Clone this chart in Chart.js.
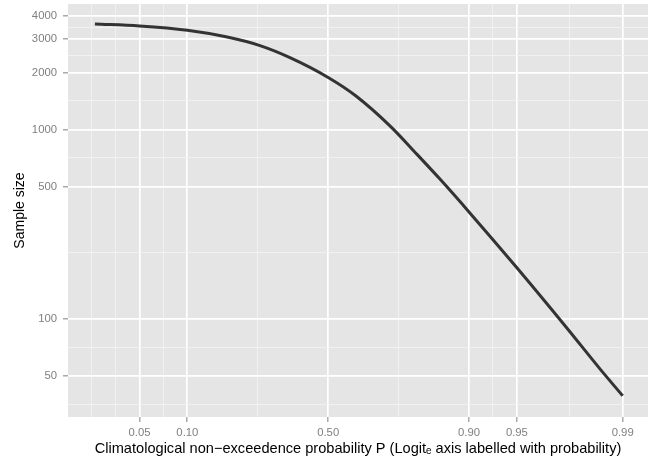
<!DOCTYPE html>
<html>
<head>
<meta charset="utf-8">
<script src="https://cdn.jsdelivr.net/npm/chart.js@4.4.0/dist/chart.umd.min.js"></script>
<style>
    html, body { margin: 0; padding: 0; background: #fff; }
    canvas { display: block; }
</style>
</head>
<body>
<canvas id="sample-chart" width="659" height="462"></canvas>
<script>
"use strict";

// data
var probabilities = [0.0256, 0.05, 0.10, 0.1688, 0.2565, 0.3553, 0.50, 0.6068, 0.7239, 0.80, 0.8512, 0.90, 0.95, 0.9765, 0.9858, 0.99];
var sampleSizes = [3607, 3520, 3341, 3086, 2773, 2396, 1883, 1503, 1045, 739, 547, 367, 186, 89.2, 54.4, 39.2];
var xTickLabels = [0.05, 0.10, 0.50, 0.90, 0.95, 0.99];
var yTickLabels = [50, 100, 500, 1000, 2000, 3000, 4000];

function logit(p) { return Math.log(p / (1 - p)); }
function invLogit(v) { return 1 / (1 + Math.exp(-v)); }

// ggplot style minor breaks: halfway between majors (in transformed space), plus one step outside
function minorBreaks(major, fwd, inv, lo, hi) {
    var t = major.map(fwd);
    var n = t.length;
    var ext = [t[0] - (t[1] - t[0])].concat(t, [t[n - 1] + (t[n - 1] - t[n - 2])]);
    var out = [];
    for (var i = 0; i < ext.length - 1; i++) {
        if (i === 0) out.push(ext[0]);
        out.push((ext[i] + ext[i + 1]) / 2);
    }
    out.push(ext[ext.length - 1]);
    var a = fwd(lo), b = fwd(hi);
    return out.filter(function (v) { return v > a && v < b; }).map(inv);
}

//start logit scale
class LogitScale extends Chart.Scale {
    determineDataLimits() {
        this.min = this.options.min;
        this.max = this.options.max;
    }
    buildTicks() {
        var ticks = xTickLabels.map(function (v) { return { value: v }; });
        minorBreaks(xTickLabels, logit, invLogit, this.min, this.max).forEach(function (v) {
            ticks.push({ value: v, minor: true });
        });
        return ticks;
    }
    getLabelForValue(v) {
        return v.toFixed(2);
    }
    getPixelForValue(v) {
        var a = logit(this.min), b = logit(this.max);
        return this.getPixelForDecimal((logit(v) - a) / (b - a));
    }
    getValueForPixel(px) {
        var a = logit(this.min), b = logit(this.max);
        return invLogit(a + this.getDecimalForPixel(px) * (b - a));
    }
}
LogitScale.id = 'logit';
LogitScale.defaults = {};
Chart.register(LogitScale);
//end logit scale

var panelBackground = {
    id: 'panelBackground',
    beforeDraw: function (chart) {
        var a = chart.chartArea;
        var ctx = chart.ctx;
        ctx.save();
        ctx.fillStyle = '#E5E5E5';
        ctx.fillRect(a.left, a.top, a.right - a.left, a.bottom - a.top);
        ctx.restore();
    }
};

var gridOpts = {
    color: function (c) { return c.tick && c.tick.minor ? '#F2F2F2' : '#FFFFFF'; },
    lineWidth: function (c) { return c.tick && c.tick.minor ? 0.9 : 1.7; },
    tickColor: function (c) { return c.tick && c.tick.minor ? 'rgba(0,0,0,0)' : '#7F7F7F'; },
    tickWidth: 1,
    tickLength: 5,
    drawTicks: true
};

var lineData = {
    datasets: [{
        data: probabilities.map(function (p, i) { return { x: p, y: sampleSizes[i] }; }),
        borderColor: '#333333',
        borderWidth: 3,
        pointRadius: 0,
        fill: false,
        cubicInterpolationMode: 'monotone',
        borderCapStyle: 'butt'
    }]
};

var myLine = new Chart(document.getElementById('sample-chart'), {
    type: 'line',
    data: lineData,
    plugins: [panelBackground],
    options: {
        responsive: false,
        animation: false,
        devicePixelRatio: 1,
        layout: { padding: { top: 4, right: 11, left: 0, bottom: 0 } },
        plugins: {
            legend: { display: false },
            tooltip: { enabled: false }
        },
        scales: {
            x: {
                type: 'logit',
                position: 'bottom',
                min: 0.01697,
                max: 0.99324,
                grid: gridOpts,
                border: { display: false },
                ticks: {
                    autoSkip: false,
                    maxRotation: 0,
                    padding: 4,
                    color: '#7F7F7F',
                    font: { family: "'Liberation Sans', Arial, sans-serif", size: 11.3 },
                    callback: function (v, i, ticks) { return ticks[i].minor ? '' : v.toFixed(2); }
                },
                title: {
                    display: true,
                    text: 'Climatological non\u2212exceedence probability P (Logit\u2091 axis labelled with probability)',
                    color: '#000000',
                    font: { family: "'Liberation Sans', Arial, sans-serif", size: 14.6 },
                    padding: { top: 0, bottom: 4.3 }
                },
                afterFit: function (scale) {
                    scale.height = 45;
                    scale.paddingLeft = 0;
                    scale.paddingRight = 0;
                }
            },
            y: {
                type: 'logarithmic',
                min: 30.3,
                max: 4600,
                bounds: 'data',
                grid: gridOpts,
                border: { display: false },
                afterBuildTicks: function (scale) {
                    var ticks = yTickLabels.map(function (v) { return { value: v }; });
                    minorBreaks(yTickLabels, Math.log10, function (v) { return Math.pow(10, v); }, scale.min, scale.max).forEach(function (v) {
                        ticks.push({ value: v, minor: true });
                    });
                    scale.ticks = ticks;
                },
                ticks: {
                    autoSkip: false,
                    padding: 6,
                    color: '#7F7F7F',
                    font: { family: "'Liberation Sans', Arial, sans-serif", size: 11.3 },
                    callback: function (v, i, ticks) { return ticks[i].minor ? '' : String(v); }
                },
                title: {
                    display: true,
                    text: 'Sample size',
                    color: '#000000',
                    font: { family: "'Liberation Sans', Arial, sans-serif", size: 14 },
                    padding: { top: 12, bottom: 0 }
                },
                afterFit: function (scale) {
                    scale.width = 68;
                    scale.paddingTop = 0;
                    scale.paddingBottom = 0;
                }
            }
        }
    }
});
</script>
</body>
</html>
